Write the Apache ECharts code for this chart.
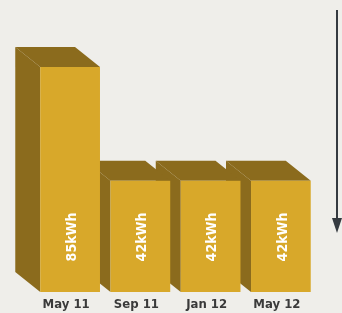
<!DOCTYPE html>
<html>
<head>
<meta charset="utf-8">
<script src="https://cdn.jsdelivr.net/npm/echarts@6/dist/echarts.min.js"></script>
<style>
  html, body { margin: 0; padding: 0; background: #efeeea; }
  #main { width: 342px; height: 313px; }
</style>
</head>
<body>
<div id="main"></div>
<script>
var months = ['May 11', 'Sep 11', 'Jan 12', 'May 12'];
var usage = [85, 42, 42, 42];
var labels = ['85kWh', '42kWh', '42kWh', '42kWh'];

var myChart = echarts.init(document.getElementById('main'));

// 立体柱子：正面 + 左侧面 + 顶面
function renderBox(params, api) {
    var idx = params.dataIndex;
    var base = api.coord([idx, 0]);
    var top = api.coord([idx, api.value(1)]);
    var w = api.size([1, 0])[0] * 0.85;
    var xl = base[0] - w / 2, xr = base[0] + w / 2;
    var dx = -25, dy = -20;
    var z = 10 - idx;
    return {
        type: 'group',
        children: [
            {
                type: 'polygon',
                z2: z * 3,
                shape: { points: [[xl, top[1]], [xl + dx, top[1] + dy], [xl + dx, base[1] + dy], [xl, base[1]]] },
                style: { fill: '#8b6b1d' }
            },
            {
                type: 'polygon',
                z2: z * 3,
                shape: { points: [[xl, top[1]], [xr, top[1]], [xr + dx, top[1] + dy], [xl + dx, top[1] + dy]] },
                style: { fill: '#8b6b1d' }
            },
            {
                type: 'rect',
                z2: z * 3 + 1,
                shape: { x: xl, y: top[1], width: w, height: base[1] - top[1] },
                style: { fill: '#d8a82a' }
            },
            {
                type: 'text',
                z2: z * 3 + 2,
                x: base[0] + 2,
                y: base[1] - 55,
                rotation: Math.PI / 2,
                style: {
                    text: labels[idx],
                    fill: '#ffffff',
                    font: 'bold 14px "Liberation Sans Narrow", "DejaVu Sans Condensed", sans-serif',
                    align: 'center',
                    verticalAlign: 'middle'
                }
            }
        ]
    };
}

var option = {
    backgroundColor: '#efeeea',
    animation: false,
    grid: {
        left: 35,
        right: 26,
        top: 67,
        bottom: 21
    },
    xAxis: {
        type: 'category',
        data: months,
        axisLine: { show: false },
        axisTick: { show: false },
        axisLabel: {
            margin: 6,
            padding: [0, 8, 0, 0],
            color: '#3a3a3a',
            fontSize: 13,
            fontWeight: 'bold',
            fontFamily: '"Liberation Sans Narrow", "DejaVu Sans Condensed", sans-serif'
        }
    },
    yAxis: {
        type: 'value',
        min: 0,
        max: 85,
        show: false
    },
    graphic: [
        {
            type: 'line',
            shape: { x1: 337, y1: 10, x2: 337, y2: 222 },
            style: { stroke: '#353a40', lineWidth: 2 }
        },
        {
            type: 'polygon',
            shape: { points: [[332, 218], [342, 218], [337, 233]] },
            style: { fill: '#353a40' }
        }
    ],
    series: [
        {
            type: 'custom',
            renderItem: renderBox,
            data: usage.map(function (v, i) { return [i, v]; })
        }
    ]
};
myChart.setOption(option);
</script>
</body>
</html>
